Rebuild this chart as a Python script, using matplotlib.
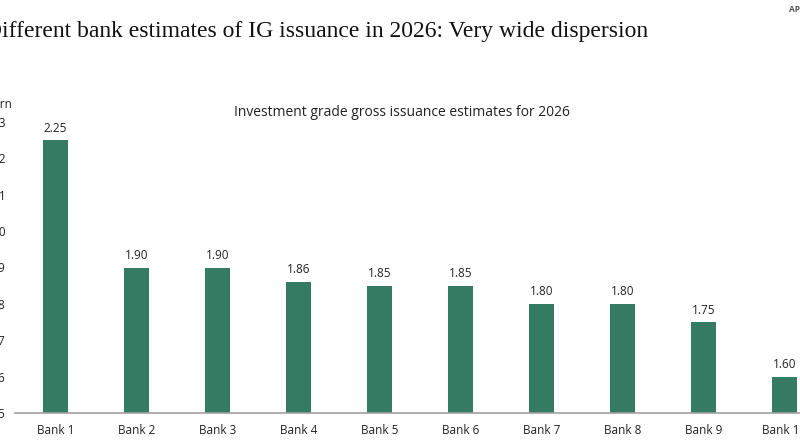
import matplotlib.pyplot as plt
import numpy as np

banks = ["Bank 1", "Bank 2", "Bank 3", "Bank 4", "Bank 5",
         "Bank 6", "Bank 7", "Bank 8", "Bank 9", "Bank 10"]
estimates = [2.25, 1.90, 1.90, 1.86, 1.85, 1.85, 1.80, 1.80, 1.75, 1.60]
y_ticks = [1.5, 1.6, 1.7, 1.8, 1.9, 2.0, 2.1, 2.2, 2.3]

plt.rcParams['font.family'] = ['Open Sans', 'DejaVu Sans']

fig = plt.figure(figsize=(8, 4.45), dpi=100)
ax = fig.add_axes([15 / 800, 32 / 445, 785 / 800, 291 / 445])

x = np.arange(len(banks))
bars = ax.bar(x, estimates, width=0.31, color='#357a62', zorder=2)

ax.set_xlim(-0.5, 9.19)
ax.set_ylim(1.5, 2.3)
ax.set_yticks(y_ticks)
ax.set_yticklabels([f"{v:.1f}" for v in y_ticks])
ax.set_xticks(x)
ax.set_xticklabels(banks)
ax.tick_params(axis='both', length=0, labelsize=8.5, colors='#222222')
ax.tick_params(axis='y', pad=6.5)
ax.tick_params(axis='x', pad=8)

for side in ['top', 'right', 'left']:
    ax.spines[side].set_visible(False)
ax.spines['bottom'].set_color('#a0a0a0')
ax.spines['bottom'].set_linewidth(1.2)

ax.bar_label(bars, labels=[f"{v:.2f}" for v in estimates], padding=4,
             fontsize=8.5, color='#222222')

fig.text(402 / 800, 1 - 112 / 445, "Investment grade gross issuance estimates for 2026",
         ha='center', va='center', fontsize=10, color='#222222')
fig.text(12 / 800, 1 - 105 / 445, "USD trn", ha='right', va='center',
         fontsize=8.5, color='#222222')
# the source is a crop of a wider slide, so the title and labels run off the edges
fig.text(648 / 800, 1 - 31 / 445,
         "Different bank estimates of IG issuance in 2026: Very wide dispersion",
         ha='right', va='center', fontsize=17, family='Liberation Serif',
         color='#111111')
fig.text(789 / 800, 1 - 9 / 445, "APOLLO", ha='left', va='center',
         fontsize=6, fontweight='bold', color='#555555')

fig.savefig("out.png", dpi=100)
